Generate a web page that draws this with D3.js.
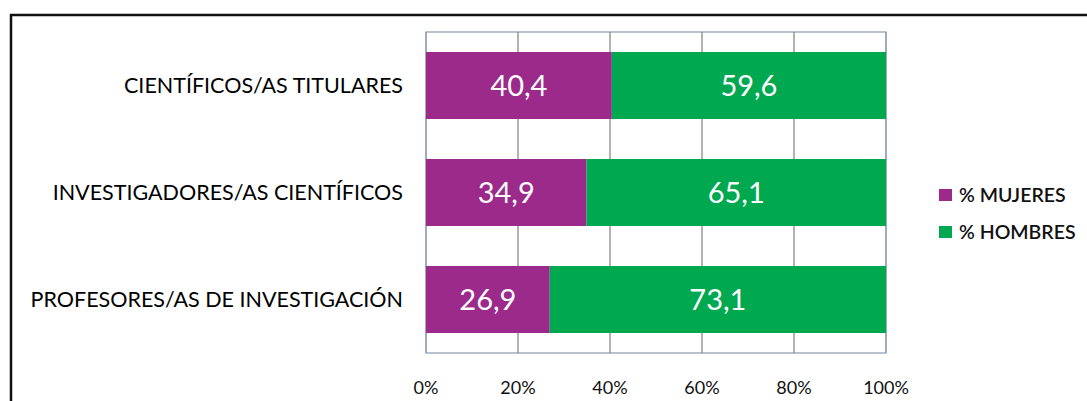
<!DOCTYPE html>
<html>
<head>
<meta charset="utf-8">
<script src="https://cdn.jsdelivr.net/npm/d3@7"></script>
<style>
  body { margin: 0; background: #fff; }
  svg { display: block; font-family: Lato, "Open Sans", sans-serif; }
</style>
</head>
<body>
<svg class="bar-chart" width="1087" height="401"></svg>
<script>
// categories, top to bottom
var categories = ["CIENTÍFICOS/AS TITULARES", "INVESTIGADORES/AS CIENTÍFICOS", "PROFESORES/AS DE INVESTIGACIÓN"];
var mujeres = [40.4, 34.9, 26.9];
var hombres = [59.6, 65.1, 73.1];
var seriesNames = ["% MUJERES", "% HOMBRES"];
var seriesColors = ["#9b2a8b", "#00a850"];
var ticks = [0, 20, 40, 60, 80, 100];

var svg = d3.select(".bar-chart"),
    margin = {top: 32, left: 426},
    width = 460,
    height = 321,
    g = svg.append("g").attr("transform", "translate(" + margin.left + "," + margin.top + ")");

// outer frame (cut off at right / bottom)
svg.append("path")
  .attr("d", "M11,401 V15 H1087")
  .attr("fill", "none")
  .attr("stroke", "#111")
  .attr("stroke-width", 2.5);

var x = d3.scaleLinear().domain([0, 100]).range([0, width]);
var y = d3.scaleBand()
  .domain(categories)
  .range([0, height])
  .paddingInner(0.374)
  .paddingOuter(0.187);

// plot box
g.append("rect")
  .attr("width", width).attr("height", height)
  .attr("fill", "#fff")
  .attr("stroke", "#8a9bb0").attr("stroke-width", 1.2);

// gridlines
g.selectAll(".grid")
  .data(ticks)
  .enter().append("line")
  .attr("class", "grid")
  .attr("x1", function(d) { return x(d); })
  .attr("x2", function(d) { return x(d); })
  .attr("y1", 0).attr("y2", height)
  .attr("stroke", function(d) { return (d == 0 || d == 100) ? "#8a9bb0" : "#808080"; })
  .attr("stroke-width", 1.2);

// stacked bars
var rows = categories.map(function(c, i) {
  return [
    {cat: c, x0: 0, x1: mujeres[i], v: mujeres[i], s: 0},
    {cat: c, x0: mujeres[i], x1: mujeres[i] + hombres[i], v: hombres[i], s: 1}
  ];
});
var segs = [].concat.apply([], rows);

g.selectAll(".bar")
  .data(segs)
  .enter().append("rect")
  .attr("class", "bar")
  .attr("x", function(d) { return x(d.x0); })
  .attr("y", function(d) { return y(d.cat); })
  .attr("width", function(d) { return x(d.x1) - x(d.x0); })
  .attr("height", y.bandwidth())
  .attr("fill", function(d) { return seriesColors[d.s]; });

g.selectAll(".val")
  .data(segs)
  .enter().append("text")
  .attr("class", "val")
  .attr("x", function(d) { return x((d.x0 + d.x1) / 2); })
  .attr("y", function(d) { return y(d.cat) + y.bandwidth() / 2; })
  .attr("dy", "0.36em")
  .attr("text-anchor", "middle")
  .attr("fill", "#fff")
  .style("font-size", "29px")
  .text(function(d) { return d3.format(".1f")(d.v).replace(".", ","); });

// category labels
g.selectAll(".cat")
  .data(categories)
  .enter().append("text")
  .attr("class", "cat")
  .attr("x", -23)
  .attr("y", function(d) { return y(d) + y.bandwidth() / 2; })
  .attr("dy", "0.36em")
  .attr("text-anchor", "end")
  .attr("fill", "#000")
  .style("font-size", "21.5px")
  .text(function(d) { return d; });

// x tick labels
g.selectAll(".tick-label")
  .data(ticks)
  .enter().append("text")
  .attr("class", "tick-label")
  .attr("x", function(d) { return x(d); })
  .attr("y", 356)
  .attr("dy", "0.36em")
  .attr("text-anchor", "middle")
  .attr("fill", "#111")
  .style("font-size", "18px")
  .text(function(d) { return d + "%"; });

// legend
var legend = svg.append("g").attr("transform", "translate(939,195)");
var li = legend.selectAll(".leg")
  .data(seriesNames)
  .enter().append("g")
  .attr("class", "leg")
  .attr("transform", function(d, i) { return "translate(0," + (i * 37) + ")"; });
li.append("rect")
  .attr("x", 0).attr("y", -6)
  .attr("width", 13).attr("height", 12)
  .attr("fill", function(d, i) { return seriesColors[i]; });
li.append("text")
  .attr("x", 20)
  .attr("dy", "0.36em")
  .attr("fill", "#111")
  .style("font-size", "19.5px")
  .style("font-weight", "600")
  .text(function(d) { return d; });
</script>
</body>
</html>
